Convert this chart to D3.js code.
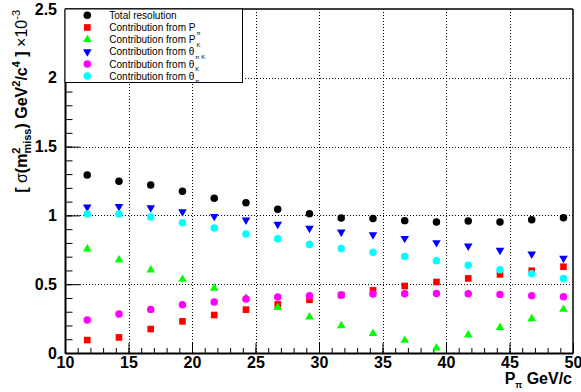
<!DOCTYPE html>
<html>
<head>
<meta charset="utf-8">
<script src="https://cdnjs.cloudflare.com/ajax/libs/d3/7.8.5/d3.min.js"></script>
<style>
  body { margin: 0; background: #fff; }
  svg { font-family: "Liberation Sans", Arial, Helvetica, sans-serif; }
  .axis text { font-weight: bold; font-size: 16px; fill: #000; }
  .axis path { stroke: #000; stroke-width: 2; }
  .axis line { stroke: #000; stroke-width: 1; }
  .grid line { stroke: #000; stroke-width: 1; stroke-dasharray: 1,2; }
  .legend-label { font-size: 10px; }
</style>
</head>
<body>
<div id="chart"></div>
<script>
/* DATA */
var momentum = [11.75, 14.25, 16.75, 19.25, 21.75, 24.25, 26.75, 29.25,
                31.75, 34.25, 36.75, 39.25, 41.75, 44.25, 46.75, 49.25];

var totalRes  = [1.294, 1.249, 1.221, 1.176, 1.125, 1.092, 1.045, 1.012,
                 0.981, 0.978, 0.962, 0.952, 0.959, 0.952, 0.969, 0.983];
var fromPpi   = [0.094, 0.113, 0.174, 0.230, 0.276, 0.315, 0.353, 0.387,
                 0.421, 0.455, 0.487, 0.516, 0.542, 0.571, 0.598, 0.627];
var fromPK    = [0.756, 0.676, 0.603, 0.535, 0.470, 0.400, 0.331, 0.262,
                 0.198, 0.142, 0.092, 0.036, 0.131, 0.186, 0.249, 0.317];
var fromThPiK = [1.061, 1.065, 1.056, 1.027, 0.993, 0.967, 0.935, 0.906,
                 0.879, 0.860, 0.833, 0.802, 0.778, 0.746, 0.719, 0.688];
var fromThK   = [0.240, 0.283, 0.317, 0.351, 0.371, 0.392, 0.407, 0.416,
                 0.421, 0.429, 0.431, 0.433, 0.431, 0.426, 0.416, 0.409];
var fromThPi  = [1.010, 1.010, 0.988, 0.947, 0.908, 0.865, 0.831, 0.789,
                 0.760, 0.731, 0.702, 0.671, 0.637, 0.605, 0.576, 0.542];

var xTicks = [10, 15, 20, 25, 30, 35, 40, 45, 50];
var yTicks = [0, 0.5, 1, 1.5, 2, 2.5];

// series in drawing (and legend) order
var series = [
  {name: "Total resolution",      sub: null,  values: totalRes,  color: "#000000", shape: "circle"},
  {name: "Contribution from P",   sub: "\u03c0", values: fromPpi, color: "#ff0000", shape: "square"},
  {name: "Contribution from P",   sub: "K",   values: fromPK,    color: "#00ff00", shape: "up"},
  {name: "Contribution from \u03b8", sub: "\u03c0 K", values: fromThPiK, color: "#0000ff", shape: "down"},
  {name: "Contribution from \u03b8", sub: "K", values: fromThK,  color: "#ff00ff", shape: "circle"},
  {name: "Contribution from \u03b8", sub: "\u03c0", values: fromThPi, color: "#00ffff", shape: "circle"}
];

var width = 581, height = 392;
// frame edges (note: "top" is a reserved window property, so don't use it)
var frameL = 65, frameR = 573, frameT = 9, frameB = 353;

var svg = d3.select("#chart").append("svg")
    .attr("width", width)
    .attr("height", height);

var x = d3.scaleLinear().domain([10, 50]).range([frameL, frameR]);
var y = d3.scaleLinear().domain([0, 2.5]).range([frameB, frameT]);

// grid
var grid = svg.append("g").attr("class", "grid");
grid.selectAll(".gx")
    .data(xTicks.slice(1, -1))
  .enter().append("line")
    .attr("x1", function(d){ return Math.round(x(d)) + 0.5; })
    .attr("x2", function(d){ return Math.round(x(d)) + 0.5; })
    .attr("y1", frameT).attr("y2", frameB);
grid.selectAll(".gy")
    .data(yTicks.slice(1, -1))
  .enter().append("line")
    .attr("y1", function(d){ return Math.round(y(d)) + 0.5; })
    .attr("y2", function(d){ return Math.round(y(d)) + 0.5; })
    .attr("x1", frameL).attr("x2", frameR);

// frame top / right
svg.append("line").attr("x1", frameL).attr("x2", frameR).attr("y1", frameT).attr("y2", frameT)
    .attr("stroke", "#000").attr("stroke-width", 1.5);
svg.append("line").attr("x1", frameR).attr("x2", frameR).attr("y1", frameT).attr("y2", frameB)
    .attr("stroke", "#000").attr("stroke-width", 1.5);

// minor ticks
svg.append("g").attr("class", "axis")
    .attr("transform", "translate(0," + frameB + ")")
    .call(d3.axisBottom(x).ticks(40).tickSize(-5).tickSizeOuter(0).tickFormat(""))
    .select(".domain").remove();
svg.append("g").attr("class", "axis")
    .attr("transform", "translate(" + frameL + ",0)")
    .call(d3.axisLeft(y).ticks(25).tickSize(-7.5).tickSizeOuter(0).tickFormat(""))
    .select(".domain").remove();

// major ticks + labels
svg.append("g").attr("class", "axis")
    .attr("transform", "translate(0," + frameB + ")")
    .call(d3.axisBottom(x).tickValues(xTicks).tickSize(-10).tickSizeOuter(0)
      .tickPadding(4).tickFormat(d3.format("d")));
svg.append("g").attr("class", "axis")
    .attr("transform", "translate(" + frameL + ",0)")
    .call(d3.axisLeft(y).tickValues(yTicks).tickSize(-15).tickSizeOuter(0)
      .tickPadding(8).tickFormat(function(d){ return d3.format("")(d); }));

function symbolPath(shape) {
  if (shape === "circle") return d3.symbol().type(d3.symbolCircle).size(44)();
  if (shape === "square") return d3.symbol().type(d3.symbolSquare).size(44)();
  return d3.symbol().type(d3.symbolTriangle).size(32)();
}

// points
series.forEach(function(s){
  svg.append("g").selectAll("path")
      .data(s.values)
    .enter().append("path")
      .attr("d", symbolPath(s.shape))
      .attr("fill", s.color)
      .attr("transform", function(d, i){
        return "translate(" + x(momentum[i]) + "," + y(d) + ")" + (s.shape === "down" ? " rotate(180)" : "");
      });
});

// legend
var lg = svg.append("g");
lg.append("rect")
    .attr("x", frameL).attr("y", frameT)
    .attr("width", 242.5 - frameL).attr("height", 82.5 - frameT)
    .attr("fill", "#fff").attr("stroke", "#000").attr("stroke-width", 1);
series.forEach(function(s, i){
  var cy = 15.3 + i * 12.15;
  lg.append("path")
      .attr("d", symbolPath(s.shape))
      .attr("fill", s.color)
      .attr("transform", "translate(87.3," + cy + ")" + (s.shape === "down" ? " rotate(180)" : ""));
  var t = lg.append("text")
      .attr("class", "legend-label")
      .attr("x", 109.3)
      .attr("y", cy + 3.6)
      .text(s.name);
  if (s.sub) {
    t.append("tspan").attr("font-size", "6px").attr("dx", 1).attr("dy", 3.5).text(s.sub);
  }
});

// axis titles
var xt = svg.append("text")
    .attr("x", frameR - 1).attr("y", 384)
    .attr("text-anchor", "end")
    .attr("font-weight", "bold").attr("font-size", "16px")
    .text("P");
xt.append("tspan").attr("font-size", "9px").attr("dy", 4).text("\u03c0");
xt.append("tspan").attr("dy", -4).text(" GeV/c");

var yt = svg.append("text")
    .attr("transform", "translate(27,10) rotate(-90)")
    .attr("text-anchor", "end")
    .attr("font-weight", "bold").attr("font-size", "16px");
yt.append("tspan").text("[ ");
yt.append("tspan").attr("font-weight", "normal").text("\u03c3");
yt.append("tspan").text("(m");
yt.append("tspan").attr("font-size", "11px").attr("dy", -7).text("2");
yt.append("tspan").attr("font-size", "11px").attr("dx", -6.1).attr("dy", 11).text("miss");
yt.append("tspan").attr("dy", -4).text(") GeV");
yt.append("tspan").attr("font-size", "11px").attr("dy", -7).text("2");
yt.append("tspan").attr("dy", 7).text("/c");
yt.append("tspan").attr("font-size", "11px").attr("dy", -7).text("4");
yt.append("tspan").attr("dy", 7).text(" ] ");
yt.append("tspan").attr("font-weight", "normal").text("\u00d710");
yt.append("tspan").attr("font-weight", "normal").attr("font-size", "11px").attr("dy", -7).text("-3");
</script>
</body>
</html>
